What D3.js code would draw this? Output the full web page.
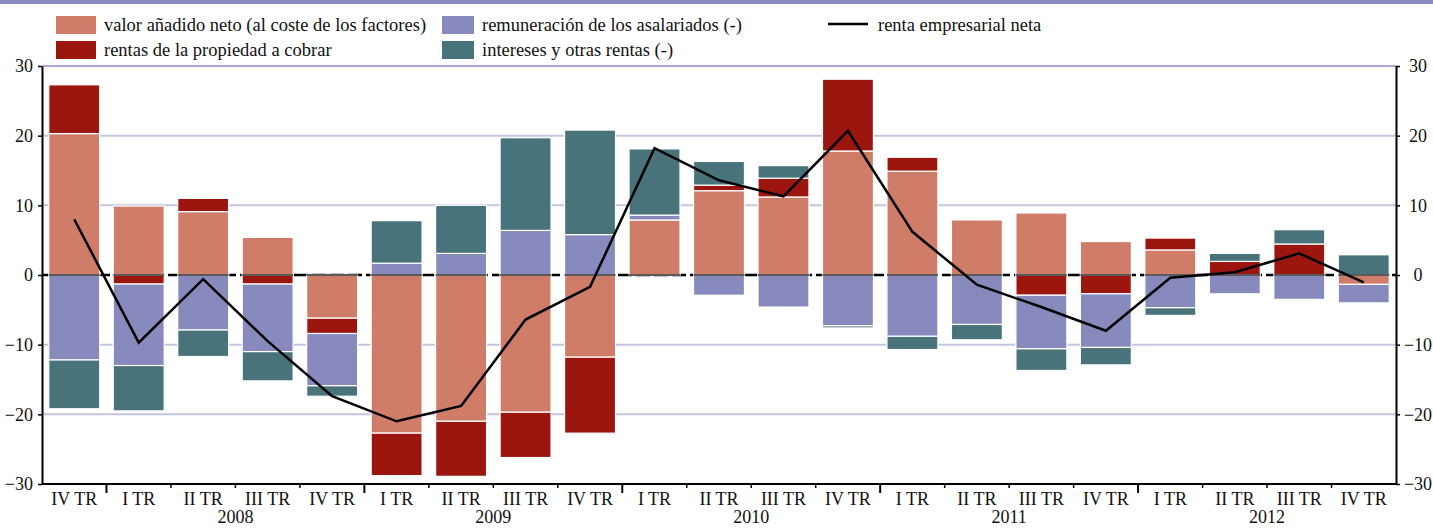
<!DOCTYPE html>
<html>
<head>
<meta charset="utf-8">
<script src="https://cdn.jsdelivr.net/npm/d3@7"></script>
<style>
  body { margin: 0; background: #fff; }
  text { font-family: "Liberation Serif", "Times New Roman", serif; fill: #111; }
</style>
</head>
<body>
<div id="chart"></div>
<script>
// Data (percent contributions)

const quarters = ["IV TR", "I TR", "II TR", "III TR", "IV TR",
                  "I TR", "II TR", "III TR", "IV TR",
                  "I TR", "II TR", "III TR", "IV TR",
                  "I TR", "II TR", "III TR", "IV TR",
                  "I TR", "II TR", "III TR", "IV TR"];

const years = ["2008", "2009", "2010", "2011", "2012"];
const yearStart = [1, 5, 9, 13, 17];

const valorAnadido = [20.3, 9.9, 9.1, 5.4, -6.2, -22.7, -21.0, -19.7, -11.8, 7.9, 12.1,
                      11.2, 17.8, 14.9, 7.9, 8.9, 4.8, 3.6, 0.0, 0.0, -1.35];
const rentasPropiedad = [7.0, -1.3, 1.9, -1.3, -2.2, -6.1, -7.9, -6.5, -10.9, 0.0, 0.8,
                         2.7, 10.3, 2.0, 0.0, -2.9, -2.7, 1.7, 1.95, 4.45, 0.0];
const remuneracion = [-12.2, -11.7, -7.9, -9.7, -7.5, 1.7, 3.1, 6.4, 5.8, 0.7, -2.9,
                      -4.6, -7.3, -8.8, -7.1, -7.7, -7.7, -4.7, -2.7, -3.5, -2.65];
const intereses = [-7.0, -6.5, -3.8, -4.2, -1.5, 6.1, 6.9, 13.3, 15.0, 9.5, 3.4,
                   1.8, -0.3, -1.9, -2.2, -3.1, -2.5, -1.1, 1.15, 2.05, 2.9];
const rentaNeta = [8.0, -9.7, -0.6, -9.5, -17.4, -21.0, -18.8, -6.4, -1.7, 18.2, 13.6,
                   11.3, 20.7, 6.2, -1.4, -4.6, -8.0, -0.4, 0.4, 3.1, -1.05];

const yTicks = [-30, -20, -10, 0, 10, 20, 30];

const seriesKeys = ["valor", "rentas", "remun", "intereses"];
const seriesColor = {
  valor: "#cf7c68",
  rentas: "#9c1610",
  remun: "#888abd",
  intereses: "#48737a"
};

// General setup

const width = 1433, height = 528;
const plotLeft = 42, plotRight = 1396, plotTop = 66, plotBottom = 484;
const serif = "Liberation Serif, Times New Roman, serif";

const svg = d3.select("#chart")
  .append("svg")
  .attr("width", width)
  .attr("height", height)
  .attr("font-family", serif);

svg.append("rect")
  .attr("width", width)
  .attr("height", height)
  .attr("fill", "#fff");

// purple stripe on the top edge
svg.append("rect")
  .attr("width", width)
  .attr("height", 4)
  .attr("fill", "#8a8cc0");

const x = d3.scaleBand()
  .domain(d3.range(quarters.length))
  .range([plotLeft, plotRight])
  .paddingInner(0.21)
  .paddingOuter(0.105);

const y = d3.scaleLinear()
  .domain([-30, 30])
  .range([plotBottom, plotTop]);

// grid lines
svg.append("g")
  .selectAll("line")
  .data(yTicks.filter(d => d !== 0 && d !== -30))
  .enter()
  .append("line")
  .attr("x1", plotLeft)
  .attr("x2", plotRight)
  .attr("y1", d => y(d))
  .attr("y2", d => y(d))
  .attr("stroke", d => d === 30 ? "#8a8cc0" : "#c4c5e0")
  .attr("stroke-width", d => d === 30 ? 1.5 : 2);

// black dashed zero line under the bars
svg.append("line")
  .attr("x1", plotLeft)
  .attr("x2", plotRight)
  .attr("y1", y(0))
  .attr("y2", y(0))
  .attr("stroke", "#000")
  .attr("stroke-width", 2.5)
  .attr("stroke-dasharray", "14,4");

// stacked bars
const table = quarters.map((q, i) => ({
  valor: valorAnadido[i],
  rentas: rentasPropiedad[i],
  remun: remuneracion[i],
  intereses: intereses[i]
}));

const stacked = d3.stack()
  .keys(seriesKeys)
  .offset(d3.stackOffsetDiverging)(table);

svg.append("g")
  .selectAll("g")
  .data(stacked)
  .enter()
  .append("g")
  .attr("fill", d => seriesColor[d.key])
  .selectAll("rect")
  .data(d => d.map((v, i) => ({ v: v, i: i })).filter(p => p.v[0] !== p.v[1]))
  .enter()
  .append("rect")
  .attr("x", p => x(p.i))
  .attr("width", x.bandwidth())
  .attr("y", p => y(Math.max(p.v[0], p.v[1])))
  .attr("height", p => Math.abs(y(p.v[0]) - y(p.v[1])))
  .attr("stroke", "#fff")
  .attr("stroke-width", 1.2);

// zero line where it crosses the bars (greyish in the original)
svg.append("g")
  .selectAll("line")
  .data(quarters)
  .enter()
  .append("line")
  .attr("x1", (d, i) => x(i))
  .attr("x2", (d, i) => x(i) + x.bandwidth())
  .attr("y1", y(0))
  .attr("y2", y(0))
  .attr("stroke", "#5a5a5a")
  .attr("stroke-width", 2);

// net business income line
const line = d3.line()
  .x((d, i) => x(i) + x.bandwidth() / 2)
  .y(d => y(d));

svg.append("path")
  .datum(rentaNeta)
  .attr("d", line)
  .attr("fill", "none")
  .attr("stroke", "#000")
  .attr("stroke-width", 2.5);

// axes
const axisLeft = d3.axisLeft(y)
  .tickValues(yTicks)
  .tickSize(4)
  .tickSizeOuter(0)
  .tickPadding(5);

const gl = svg.append("g")
  .attr("transform", `translate(${plotLeft},0)`)
  .call(axisLeft);

const axisRight = d3.axisRight(y)
  .tickValues(yTicks)
  .tickSize(4)
  .tickSizeOuter(0);

const gr = svg.append("g")
  .attr("transform", `translate(${plotRight},0)`)
  .call(axisRight);
gr.selectAll("text")
  .attr("x", 22)
  .attr("text-anchor", "middle");

[gl, gr].forEach(g => {
  g.attr("font-family", serif);
  g.select(".domain").attr("stroke", "#000").attr("stroke-width", 2);
  g.selectAll(".tick line").attr("stroke", "#000").attr("stroke-width", 1.5);
  g.selectAll("text")
    .attr("font-size", 18)
    .attr("fill", "#111");
});

// bottom axis
svg.append("line")
  .attr("x1", plotLeft)
  .attr("x2", plotRight)
  .attr("y1", plotBottom)
  .attr("y2", plotBottom)
  .attr("stroke", "#000")
  .attr("stroke-width", 2);

svg.append("g")
  .selectAll("line")
  .data(d3.range(1, quarters.length))
  .enter()
  .append("line")
  .attr("x1", i => plotLeft + i * x.step())
  .attr("x2", i => plotLeft + i * x.step())
  .attr("y1", plotBottom)
  .attr("y2", i => yearStart.includes(i) ? plotBottom + 9 : plotBottom + 4)
  .attr("stroke", "#000")
  .attr("stroke-width", i => yearStart.includes(i) ? 2 : 1.5);

svg.append("g")
  .selectAll("text")
  .data(quarters)
  .enter()
  .append("text")
  .attr("x", (d, i) => x(i) + x.bandwidth() / 2)
  .attr("y", 505)
  .attr("text-anchor", "middle")
  .attr("font-size", 18)
  .text(d => d);

svg.append("g")
  .selectAll("text")
  .data(years)
  .enter()
  .append("text")
  .attr("x", (d, k) => plotLeft + (yearStart[k] + 2) * x.step())
  .attr("y", 523)
  .attr("text-anchor", "middle")
  .attr("font-size", 18)
  .text(d => d);

// legend
const legendItems = [
  { key: "valor", label: "valor añadido neto (al coste de los factores)", x: 56, w: 40, y: 16 },
  { key: "rentas", label: "rentas de la propiedad a cobrar", x: 56, w: 40, y: 41 },
  { key: "remun", label: "remuneración de los asalariados (-)", x: 442, w: 32, y: 16 },
  { key: "intereses", label: "intereses y otras rentas (-)", x: 442, w: 32, y: 41 }
];

const legend = svg.append("g");

legend.selectAll("rect")
  .data(legendItems)
  .enter()
  .append("rect")
  .attr("x", d => d.x)
  .attr("y", d => d.y)
  .attr("width", d => d.w)
  .attr("height", 18)
  .attr("fill", d => seriesColor[d.key]);

legend.selectAll("text")
  .data(legendItems)
  .enter()
  .append("text")
  .attr("x", d => d.x + d.w + 8)
  .attr("y", d => d.y + 15)
  .attr("font-size", 18.5)
  .text(d => d.label);

legend.append("line")
  .attr("x1", 828)
  .attr("x2", 868)
  .attr("y1", 24)
  .attr("y2", 24)
  .attr("stroke", "#000")
  .attr("stroke-width", 2.5);

legend.append("text")
  .attr("x", 878)
  .attr("y", 31)
  .attr("font-size", 18.5)
  .text("renta empresarial neta");
</script>
</body>
</html>
